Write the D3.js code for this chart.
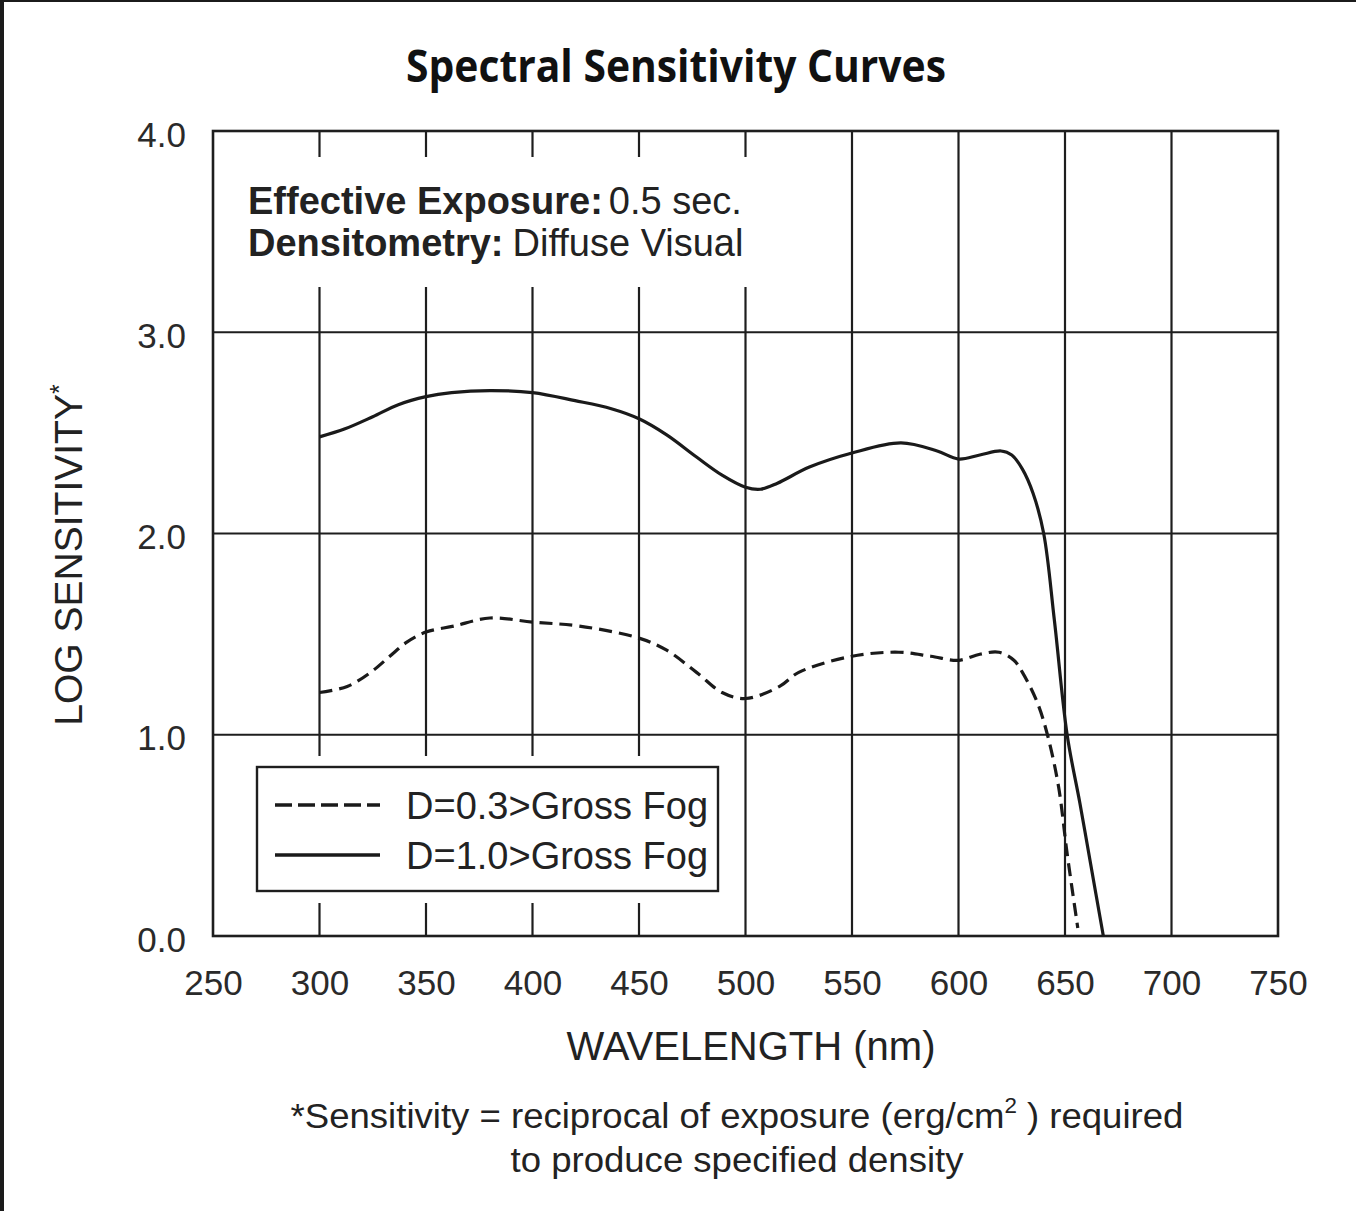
<!DOCTYPE html>
<html>
<head>
<meta charset="utf-8">
<script src="https://cdn.jsdelivr.net/npm/d3@7"></script>
<style>
  body { margin: 0; background: #fff; }
  svg { display: block; }
  text { font-family: "Liberation Sans", Arial, sans-serif; fill: #222; }
</style>
</head>
<body>
<svg id="chart"></svg>
<script>
// wavelength ticks (nm) and log sensitivity ticks
const xTicks = [250, 300, 350, 400, 450, 500, 550, 600, 650, 700, 750];
const yTicks = [0, 1, 2, 3, 4];

// D=0.3 > Gross Fog (dashed)
const wlD03 = [300, 313, 324, 333, 341, 350, 363, 380, 400, 422, 450, 463, 477, 489, 500, 516, 525, 550, 572, 587, 600, 610, 619, 626, 630, 637, 642, 647, 651, 656];
const sensD03 = [1.21, 1.24, 1.31, 1.39, 1.46, 1.51, 1.54, 1.58, 1.56, 1.54, 1.48, 1.42, 1.31, 1.21, 1.18, 1.24, 1.31, 1.39, 1.41, 1.39, 1.37, 1.40, 1.41, 1.37, 1.31, 1.16, 0.99, 0.74, 0.41, 0.04];

// D=1.0 > Gross Fog (solid)
const wlD10 = [300, 312, 325, 337, 350, 362, 380, 400, 420, 437, 450, 463, 477, 489, 500, 507, 515, 530, 550, 573, 590, 600, 610, 620, 625, 630, 635, 640, 645, 651, 657, 662, 668];
const sensD10 = [2.48, 2.52, 2.58, 2.64, 2.68, 2.70, 2.71, 2.70, 2.66, 2.62, 2.57, 2.49, 2.38, 2.29, 2.23, 2.22, 2.25, 2.33, 2.40, 2.45, 2.41, 2.37, 2.39, 2.41, 2.39, 2.32, 2.20, 2.00, 1.57, 1.00, 0.66, 0.36, 0.00];

const seriesNames = ["D=0.3>Gross Fog", "D=1.0>Gross Fog"];

const W = 1356, H = 1211;
const plot = { left: 213, right: 1278, top: 131, bottom: 936 };
const ink = "#1e1e1e";

const svg = d3.select("#chart").attr("width", W).attr("height", H);

// dark screenshot edge
svg.append("rect").attr("x", 0).attr("y", 0).attr("width", W).attr("height", 2).attr("fill", "#1b1b1b");
svg.append("rect").attr("x", 0).attr("y", 0).attr("width", 4).attr("height", H).attr("fill", "#1b1b1b");

const x = d3.scaleLinear().domain([250, 750]).range([plot.left, plot.right]);
const y = d3.scaleLinear().domain([0, 4]).range([plot.bottom, plot.top]);

// shrink a text element horizontally to a target width (the source uses a condensed face)
function fitWidth(sel, target) {
  const w = sel.node().getComputedTextLength();
  const t = sel.attr("transform") || "";
  sel.attr("transform", `${t} scale(${target / w},1)`);
}

// title
const title = svg.append("text")
  .attr("transform", "translate(676,82)")
  .attr("text-anchor", "middle")
  .style("font-family", "'Open Sans', sans-serif")
  .style("font-weight", 700)
  .style("font-size", "44px")
  .style("fill", "#111")
  .text("Spectral Sensitivity Curves");
fitWidth(title, 540);

// grid
const grid = svg.append("g").attr("stroke", ink).attr("stroke-width", 2.2);
grid.selectAll("line.v")
  .data(xTicks.filter(d => d > 250 && d < 750))
  .join("line")
  .attr("x1", d => x(d)).attr("x2", d => x(d))
  .attr("y1", plot.top).attr("y2", plot.bottom);
grid.selectAll("line.h")
  .data(yTicks.filter(d => d > 0 && d < 4))
  .join("line")
  .attr("x1", plot.left).attr("x2", plot.right)
  .attr("y1", d => y(d)).attr("y2", d => y(d));

// white areas behind the annotation and the legend
svg.append("rect").attr("x", plot.left + 2).attr("y", 157).attr("width", 545).attr("height", 130).attr("fill", "#fff");
svg.append("rect").attr("x", plot.left + 2).attr("y", 756).attr("width", 520).attr("height", 147).attr("fill", "#fff");

// frame
svg.append("rect")
  .attr("x", plot.left).attr("y", plot.top)
  .attr("width", plot.right - plot.left).attr("height", plot.bottom - plot.top)
  .attr("fill", "none").attr("stroke", ink).attr("stroke-width", 2.6);

// axes (labels only)
const xAxis = svg.append("g")
  .attr("transform", `translate(0,${plot.bottom})`)
  .call(d3.axisBottom(x).tickValues(xTicks).tickSize(0).tickPadding(34).tickFormat(d3.format("d")));
const yAxis = svg.append("g")
  .attr("transform", `translate(${plot.left},4)`)
  .call(d3.axisLeft(y).tickValues(yTicks).tickSize(0).tickPadding(27).tickFormat(d3.format(".1f")));
[xAxis, yAxis].forEach(g => {
  g.select(".domain").remove();
  g.selectAll("text")
    .style("font-family", "'Liberation Sans', Arial, sans-serif")
    .style("font-size", "35px")
    .style("fill", "#2a2a2a");
});

// axis titles
svg.append("text")
  .attr("x", 751).attr("y", 1060)
  .attr("text-anchor", "middle")
  .style("font-size", "40px")
  .text("WAVELENGTH (nm)");

const yLab = svg.append("text")
  .attr("transform", "translate(82,555) rotate(-90)")
  .attr("text-anchor", "middle")
  .style("font-size", "39px");
yLab.append("tspan").text("LOG SENSITIVITY");
yLab.append("tspan").attr("dy", -14).style("font-size", "25px").text("*");

// curves
const line = d3.line()
  .x(d => x(d[0]))
  .y(d => y(d[1]))
  .curve(d3.curveCatmullRom.alpha(0.5));

svg.append("path")
  .datum(d3.zip(wlD03, sensD03))
  .attr("d", line)
  .attr("fill", "none")
  .attr("stroke", "#1a1a1a")
  .attr("stroke-width", 3.2)
  .attr("stroke-dasharray", "13,7");

svg.append("path")
  .datum(d3.zip(wlD10, sensD10))
  .attr("d", line)
  .attr("fill", "none")
  .attr("stroke", "#1a1a1a")
  .attr("stroke-width", 3.2);

// annotation
const note1 = svg.append("text").attr("x", 248).attr("y", 214).style("font-size", "38px");
note1.append("tspan").style("font-weight", 700).text("Effective Exposure:");
note1.append("tspan").attr("dx", 6).text("0.5 sec.");
const note2 = svg.append("text").attr("x", 248).attr("y", 256).style("font-size", "38px");
note2.append("tspan").style("font-weight", 700).text("Densitometry:");
note2.append("tspan").attr("dx", 9).text("Diffuse Visual");

// legend
const legend = svg.append("g");
legend.append("rect")
  .attr("x", 257).attr("y", 767).attr("width", 461).attr("height", 124)
  .attr("fill", "#fff").attr("stroke", ink).attr("stroke-width", 2.4);
const legendRows = [
  { name: seriesNames[0], dash: "17,6", y: 805 },
  { name: seriesNames[1], dash: null, y: 855 }
];
legendRows.forEach(r => {
  legend.append("line")
    .attr("x1", 275).attr("x2", 380).attr("y1", r.y).attr("y2", r.y)
    .attr("stroke", "#1a1a1a").attr("stroke-width", 3.4)
    .attr("stroke-dasharray", r.dash);
  legend.append("text")
    .attr("x", 406).attr("y", r.y + 14)
    .style("font-size", "38px")
    .text(r.name);
});

// footnote
const foot1 = svg.append("text")
  .attr("transform", "translate(737,1128)")
  .attr("text-anchor", "middle")
  .style("font-size", "36px");
foot1.append("tspan").text("*Sensitivity = reciprocal of exposure (erg/cm");
foot1.append("tspan").attr("dy", -15).style("font-size", "22px").text("2");
foot1.append("tspan").attr("dy", 15).text(" ) required");
fitWidth(foot1, 893);

const foot2 = svg.append("text")
  .attr("transform", "translate(737,1172)")
  .attr("text-anchor", "middle")
  .style("font-size", "36px")
  .text("to produce specified density");
fitWidth(foot2, 453);
</script>
</body>
</html>
